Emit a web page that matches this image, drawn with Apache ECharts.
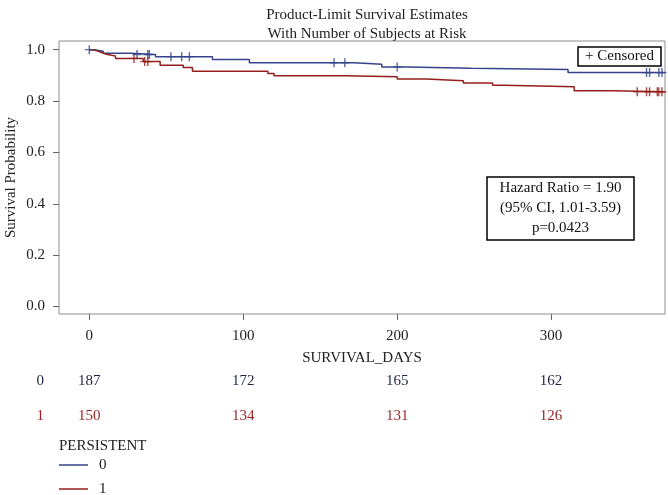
<!DOCTYPE html>
<html>
<head>
<meta charset="utf-8">
<script src="https://cdn.jsdelivr.net/npm/echarts@6/dist/echarts.min.js"></script>
<style>html,body{margin:0;padding:0;background:#fff}#c{width:668px;height:495px}</style>
</head>
<body>
<div id="c"></div>
<script>
// ---- data ----
const dayTicks = [0, 100, 200, 300];
const survTicks = [0, 0.2, 0.4, 0.6, 0.8, 1.0];
const groups = ['0', '1'];
// Kaplan-Meier step points [day, survival] (last point = end of follow-up)
const steps0 = [[0,1.0],[3,0.994],[9,0.986],[27,0.981],[43,0.973],[80,0.962],[104,0.949],[172,0.943],[190,0.933],[207,0.928],[248,0.923],[311,0.911],[374,0.911]];
const steps1 = [[0,1.0],[3,0.994],[6,0.989],[8,0.982],[11,0.976],[17,0.966],[35,0.954],[46,0.940],[61,0.931],[67,0.916],[116,0.907],[120,0.899],[166,0.895],[200,0.886],[219,0.879],[243,0.870],[262,0.862],[269,0.856],[315,0.840],[340,0.836],[374,0.836]];
const censor0 = [[0,1.0],[31,0.981],[38,0.981],[39,0.981],[53,0.973],[60,0.973],[65,0.973],[159,0.949],[166,0.949],[200,0.933],[362,0.911],[364,0.911],[370,0.911],[372,0.911]];
const censor1 = [[29,0.966],[36,0.954],[38,0.954],[356,0.836],[362,0.836],[364,0.836],[369,0.836],[370,0.836],[372,0.836]];
const riskTimes = [0, 100, 200, 300];
const risk0 = [187, 172, 165, 162];
const risk1 = [150, 134, 131, 126];

const FONT = 'Liberation Serif';
const C0 = '#34448c', C1 = '#951f1c';
const T0 = '#1d2444', T1 = '#9b1f1f';
const plusPath = 'path://M-0.8,-5 H0.8 V-0.7 H5 V0.7 H0.8 V5 H-0.8 V0.7 H-5 V-0.7 H-0.8 Z';

const legendCommon = {orient: 'vertical', left: 59, padding: 0, itemWidth: 29, itemHeight: 1.5, icon: 'rect',
  textStyle: {fontFamily: FONT, fontSize: 15, color: '#222', lineHeight: 16, padding: [0, 0, 0, 6]}};

const riskLabel = (color) => ({show: true, position: 'inside', formatter: p => String(p.value[2]),
  fontFamily: FONT, fontSize: 15, color: color, opacity: 1, textBorderWidth: 0});

const chart = echarts.init(document.getElementById('c'), null, {renderer: 'canvas'});
chart.setOption({
  animation: false,
  backgroundColor: '#fff',
  textStyle: {fontFamily: FONT},
  title: {
    text: 'Product-Limit Survival Estimates\nWith Number of Subjects at Risk',
    left: 362, top: 1, textAlign: 'center',
    textStyle: {fontFamily: FONT, fontSize: 15, fontWeight: 'normal', color: '#222', lineHeight: 19}
  },
  grid: [
    {left: 59, right: 3, top: 41, bottom: 181, show: true, borderColor: '#8c8c8c', borderWidth: 1,
     backgroundColor: '#fff', containLabel: false, outerBoundsMode: 'none'},
    {left: 59, right: 3, top: 363.5, height: 70, show: false, containLabel: false, outerBoundsMode: 'none'}
  ],
  xAxis: [
    {type: 'value', gridIndex: 0, min: -19.7, max: 374,
     name: 'SURVIVAL_DAYS', nameLocation: 'middle', nameGap: 37, nameMoveOverlap: false,
     nameTextStyle: {fontFamily: FONT, fontSize: 15, color: '#222'},
     axisLine: {show: false, onZero: false}, splitLine: {show: false},
     axisTick: {show: true, length: 6, customValues: dayTicks, lineStyle: {color: '#666'}},
     axisLabel: {customValues: dayTicks, margin: 15, fontFamily: FONT, fontSize: 15, color: '#222'}},
    {type: 'value', gridIndex: 1, min: -19.7, max: 374, show: false}
  ],
  yAxis: [
    {type: 'value', gridIndex: 0, min: -0.029, max: 1.034,
     name: 'Survival Probability', nameLocation: 'middle', nameGap: 40, nameMoveOverlap: false,
     nameTextStyle: {fontFamily: FONT, fontSize: 15, color: '#222'},
     axisLine: {show: false, onZero: false}, splitLine: {show: false},
     axisTick: {show: true, length: 6, customValues: survTicks, lineStyle: {color: '#666'}},
     axisLabel: {customValues: survTicks, margin: 14, fontFamily: FONT, fontSize: 15, color: '#222',
                 formatter: v => v.toFixed(1)}},
    {type: 'category', gridIndex: 1, data: groups, inverse: true,
     axisLine: {show: false}, axisTick: {show: false}, splitLine: {show: false},
     axisLabel: {margin: 15, fontFamily: FONT, fontSize: 15,
                 color: (v) => v === '0' ? T0 : T1}}
  ],
  legend: [
    Object.assign({data: [groups[0]], top: 457}, legendCommon),
    Object.assign({data: [groups[1]], top: 481}, legendCommon)
  ],
  series: [
    {name: '0', type: 'line', step: 'end', data: steps0, showSymbol: false, symbol: 'none',
     lineStyle: {color: C0, width: 1.5}, itemStyle: {color: C0}, xAxisIndex: 0, yAxisIndex: 0, z: 3},
    {name: '1', type: 'line', step: 'end', data: steps1, showSymbol: false, symbol: 'none',
     lineStyle: {color: C1, width: 1.5}, itemStyle: {color: C1}, xAxisIndex: 0, yAxisIndex: 0, z: 3},
    {name: 'cens0', type: 'scatter', data: censor0, symbol: plusPath, symbolSize: 9,
     itemStyle: {color: C0}, xAxisIndex: 0, yAxisIndex: 0, z: 4},
    {name: 'cens1', type: 'scatter', data: censor1, symbol: plusPath, symbolSize: 9,
     itemStyle: {color: C1}, xAxisIndex: 0, yAxisIndex: 0, z: 4},
    {name: 'risk0', type: 'scatter', xAxisIndex: 1, yAxisIndex: 1,
     data: riskTimes.map((t, i) => [t, 0, risk0[i]]),
     symbolSize: 1, itemStyle: {color: 'rgba(0,0,0,0)', opacity: 1}, label: riskLabel(T0),
     emphasis: {disabled: true}},
    {name: 'risk1', type: 'scatter', xAxisIndex: 1, yAxisIndex: 1,
     data: riskTimes.map((t, i) => [t, 1, risk1[i]]),
     symbolSize: 1, itemStyle: {color: 'rgba(0,0,0,0)', opacity: 1}, label: riskLabel(T1),
     emphasis: {disabled: true}}
  ],
  graphic: [
    {type: 'text', left: 59, top: 439, style: {text: 'PERSISTENT', fontFamily: FONT, fontSize: 15, fill: '#222'}},
    {type: 'rect', shape: {x: 578, y: 47, width: 83, height: 19}, style: {fill: '#fff', stroke: '#000', lineWidth: 1.5}, z: 10},
    {type: 'text', x: 619.5, y: 56.5, style: {text: '+ Censored', fontFamily: FONT, fontSize: 15, fill: '#111', align: 'center', verticalAlign: 'middle'}, z: 11},
    {type: 'rect', shape: {x: 487, y: 177, width: 147, height: 63}, style: {fill: '#fff', stroke: '#000', lineWidth: 1.5}, z: 10},
    {type: 'text', x: 560.5, y: 208.5, style: {text: 'Hazard Ratio = 1.90\n(95% CI, 1.01-3.59)\np=0.0423', fontFamily: FONT, fontSize: 15, lineHeight: 20, fill: '#111', align: 'center', verticalAlign: 'middle'}, z: 11}
  ]
});
</script>
</body>
</html>
